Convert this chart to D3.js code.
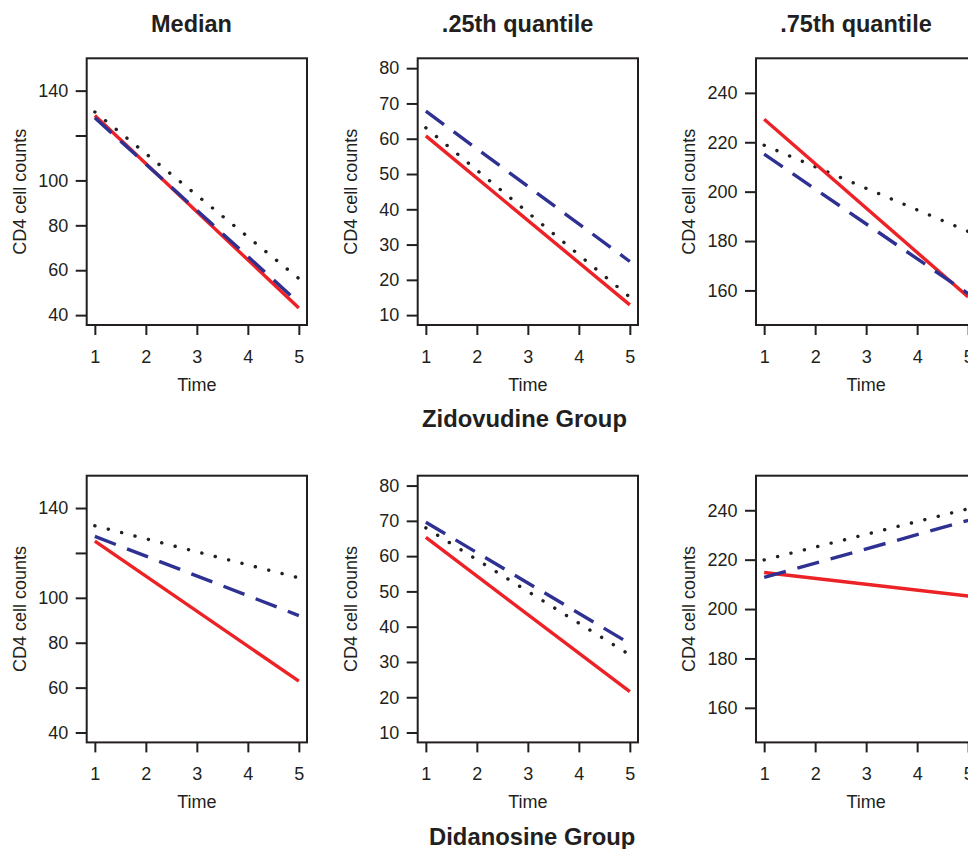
<!DOCTYPE html>
<html>
<head>
<meta charset="utf-8">
<script src="https://cdn.jsdelivr.net/npm/d3@7"></script>
<style>
  body { margin: 0; background: #fff; }
  svg { display: block; font-family: "Liberation Sans", Arial, sans-serif; }
</style>
</head>
<body>
<svg id="chart" width="968" height="849"></svg>
<script>
// time points used by each fitted line (start and end)
var timeEnds = [1, 5];
var timeTicks = [1, 2, 3, 4, 5];

var statNames = ["Median", ".25th quantile", ".75th quantile"];
var groupNames = ["Zidovudine Group", "Didanosine Group"];

// y limits and ticks per statistic
var yLimits = [[40, 150], [10, 80], [150, 250]];
var yTicks = [[40, 60, 80, 100, 120, 140], [10, 20, 30, 40, 50, 60, 70, 80], [160, 180, 200, 220, 240]];
var yHidden = [[120], [], []];   // ticks drawn without label

// values at time 1 and time 5, [group][stat]
var solidRed = [
  [[128.9, 43.2], [60.8, 12.9], [229.3, 157.4]],
  [[125.3, 62.9], [65.3, 21.6], [214.8, 205.3]]
];
var dashedBlue = [
  [[127.9, 45.5], [67.8, 25.2], [215.2, 158.7]],
  [[127.4, 92.1], [69.6, 35.2], [212.8, 235.9]]
];
var dottedBlack = [
  [[130.5, 56.3], [63.1, 15.1], [218.8, 183.9]],
  [[132.1, 108.9], [68.0, 32.0], [219.9, 240.6]]
];

var ink = "#231f20";
var svg = d3.select("#chart");

var colLeft = [86.7, 417.7, 756];
var rowTop = [58.3, 475.7];
var boxW = 220.3, boxH = 266.7;

function pad(lim) {
  var r = lim[1] - lim[0];
  return [lim[0] - 0.04 * r, lim[1] + 0.04 * r];
}

var x = d3.scaleLinear().domain(pad([1, 5])).range([0, boxW]);
var line = d3.line();

for (var g = 0; g < 2; g++) {
  for (var s = 0; s < 3; s++) {
    var p = svg.append("g").attr("transform", "translate(" + colLeft[s] + "," + rowTop[g] + ")");
    var y = d3.scaleLinear().domain(pad(yLimits[s])).range([boxH, 0]);
    var hidden = yHidden[s];

    var series = [
      {vals: dottedBlack[g][s], color: ink, dash: "0.1,13.7", cap: "round"},
      {vals: solidRed[g][s], color: "#ec2227", dash: null, cap: "butt"},
      {vals: dashedBlue[g][s], color: "#2e3192", dash: "22.5,12", cap: "butt"}
    ];
    series.forEach(function(d) {
      p.append("path")
        .attr("d", line(timeEnds.map(function(t, i) { return [x(t), y(d.vals[i])]; })))
        .attr("fill", "none")
        .attr("stroke", d.color)
        .attr("stroke-width", 3.4)
        .attr("stroke-linecap", d.cap)
        .attr("stroke-dasharray", d.dash);
    });

    p.append("rect")
      .attr("width", boxW).attr("height", boxH)
      .attr("fill", "none").attr("stroke", ink).attr("stroke-width", 2);

    var ya = p.append("g")
      .call(d3.axisLeft(y).tickValues(yTicks[s]).tickSize(11).tickPadding(7.4)
        .tickFormat(function(v) { return hidden.indexOf(v) >= 0 ? "" : v; }));
    var xa = p.append("g").attr("transform", "translate(0," + boxH + ")")
      .call(d3.axisBottom(x).tickValues(timeTicks).tickSize(10).tickPadding(15.2)
        .tickFormat(d3.format("d")));
    [ya, xa].forEach(function(a) {
      a.select(".domain").remove();
      a.selectAll("line").attr("stroke", ink).attr("stroke-width", 2);
      a.selectAll("text").attr("fill", ink).style("font-size", "18px");
    });

    p.append("text")
      .attr("x", boxW / 2).attr("y", boxH + 65.7)
      .attr("text-anchor", "middle").attr("fill", ink).style("font-size", "18px")
      .text("Time");
    p.append("text")
      .attr("transform", "translate(-60.7," + (boxH / 2) + ") rotate(-90)")
      .attr("text-anchor", "middle").attr("fill", ink).style("font-size", "18px")
      .text("CD4 cell counts");
  }
}

// column titles
var titleX = [191.5, 517.6, 856];
statNames.forEach(function(n, i) {
  svg.append("text")
    .attr("x", titleX[i]).attr("y", 32)
    .attr("text-anchor", "middle").attr("fill", ink)
    .style("font-size", "23.5px").style("font-weight", "bold")
    .text(n);
});

// group captions
var groupX = [524.5, 532.2];
var groupY = [426.5, 844.5];
groupNames.forEach(function(n, i) {
  svg.append("text")
    .attr("x", groupX[i]).attr("y", groupY[i])
    .attr("text-anchor", "middle").attr("fill", ink)
    .style("font-size", "23.8px").style("font-weight", "bold")
    .text(n);
});
</script>
</body>
</html>
